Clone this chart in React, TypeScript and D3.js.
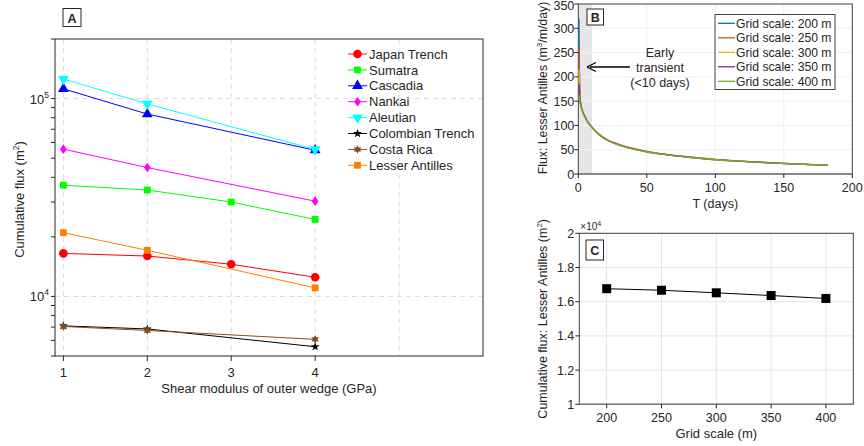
import React from "react";
import * as d3 from "d3";

// ---------- Panel A data ----------
const shearModulus = [1, 2, 3, 4];
const seriesNames = [
  "Japan Trench",
  "Sumatra",
  "Cascadia",
  "Nankai",
  "Aleutian",
  "Colombian Trench",
  "Costa Rica",
  "Lesser Antilles",
];
const japanTrench = [16500, 16000, 14550, 12500];
const sumatra = [36500, 34500, 30000, 24500];
const cascadia = [112000, 83500, null, 54800];
const nankai = [55500, 44800, null, 30300];
const aleutian = [125500, 94000, null, 55300];
const colombianTrench = [7100, 6850, null, 5570];
const costaRica = [7050, 6730, null, 6070];
const lesserAntilles = [21000, 17100, null, 11050];
const yTicksA = [10000, 100000];
const xTicksA = [1, 2, 3, 4];

// ---------- Panel B data ----------
const timeDays = [0.5, 0.7, 1.0, 1.6, 3, 5, 7, 10, 15, 20, 30, 40, 50, 60, 70, 80, 100, 120, 140, 160, 182];
const flux200 = [320, 240, 185, 148, 131, 118, 107, 96, 82, 72, 60, 52, 46, 41.5, 38, 35, 29.5, 26, 23, 20.5, 18];
const flux250 = [258, 222, 180, 147, 131, 118, 107.5, 96.5, 82.5, 72.5, 60.5, 52.5, 46.5, 42, 38.5, 35.5, 30, 26.5, 23.3, 20.7, 18.2];
const flux300 = [215, 196, 172, 146, 130, 117.5, 107, 96, 82, 72, 60, 52, 46, 41.5, 38, 35, 29.7, 26.2, 23.2, 20.6, 18.1];
const flux350 = [185, 174, 160, 145, 129.5, 117, 106.5, 95.5, 81.5, 71.5, 59.5, 51.7, 45.7, 41.3, 37.8, 34.8, 29.5, 26, 23, 20.5, 18];
const flux400 = [162, 156, 150, 143, 128.5, 116, 105.5, 95, 81, 71, 59, 51.3, 45.3, 41, 37.5, 34.5, 29.3, 25.8, 22.8, 20.3, 17.8];
const gridLabels = ["Grid scale: 200 m", "Grid scale: 250 m", "Grid scale: 300 m", "Grid scale: 350 m", "Grid scale: 400 m"];
const xTicksB = [0, 50, 100, 150, 200];
const yTicksB = [0, 50, 100, 150, 200, 250, 300, 350];

// ---------- Panel C data ----------
const gridScale = [200, 250, 300, 350, 400];
const cumFluxLA = [16760, 16670, 16520, 16360, 16190];
const xTicksC = [200, 250, 300, 350, 400];
const yTicksC = [1, 1.2, 1.4, 1.6, 1.8, 2];

const FONT = "'Liberation Sans', Arial, Helvetica, sans-serif";
const TXT = "#262626";

const colorsA = ["#FF0000", "#00FF00", "#0000FF", "#FF00FF", "#00FFFF", "#000000", "#80501F", "#FF8000"];
const colorsB = ["#0072BD", "#D95319", "#EDB120", "#7E2F8E", "#77AC30"];

function starPath(points: number, rOuter: number, rInner: number) {
  const pts: string[] = [];
  for (let i = 0; i < points * 2; i++) {
    const r = i % 2 === 0 ? rOuter : rInner;
    const a = (Math.PI * i) / points - Math.PI / 2;
    pts.push(`${(r * Math.cos(a)).toFixed(2)},${(r * Math.sin(a)).toFixed(2)}`);
  }
  return "M" + pts.join("L") + "Z";
}

function markerA(i: number, color: string) {
  const sym = d3.symbol();
  switch (i) {
    case 0:
      return <circle r={4.3} fill={color} />;
    case 1:
      return <rect x={-3.4} y={-3.4} width={6.8} height={6.8} fill={color} />;
    case 2:
      return <path d={sym.type(d3.symbolTriangle).size(50)() || ""} fill={color} />;
    case 3:
      return <path d={"M0,-4.8L3.4,0L0,4.8L-3.4,0Z"} fill={color} />;
    case 4:
      return <path d={sym.type(d3.symbolTriangle).size(50)() || ""} fill={color} transform="rotate(180)" />;
    case 5:
      return <path d={starPath(5, 4.6, 1.9)} fill={color} />;
    case 6:
      return <path d={starPath(6, 4.4, 2.3)} fill={color} />;
    default:
      return <rect x={-3.4} y={-3.4} width={6.8} height={6.8} fill={color} />;
  }
}

function PanelA() {
  const L = 55, R = 483, T = 39, B = 356;
  const x = d3.scaleLinear().domain([0.9, 6]).range([L, R]);
  const y = d3.scaleLog().domain([5000, 200000]).range([B, T]);
  const data = [japanTrench, sumatra, cascadia, nankai, aleutian, colombianTrench, costaRica, lesserAntilles];
  const minorTicks: number[] = [];
  for (let d = 1000; d <= 100000; d *= 10) {
    for (let k = 1; k <= 9; k++) {
      const v = d * k;
      if (v >= 5000 && v <= 200000) minorTicks.push(v);
    }
  }
  const line = d3
    .line<[number, number]>()
    .x((p) => x(p[0]))
    .y((p) => y(p[1]));
  return (
    <g>
      {[1, 2, 3, 4, 5].map((v) => (
        <line key={"gx" + v} x1={x(v)} x2={x(v)} y1={T} y2={B} stroke="#dcdcdc" strokeDasharray="5,4" strokeWidth={1} />
      ))}
      {yTicksA.map((v) => (
        <line key={"gy" + v} x1={L} x2={R} y1={y(v)} y2={y(v)} stroke="#dcdcdc" strokeDasharray="5,4" strokeWidth={1} />
      ))}
      {data.map((s, i) => {
        const pts = shearModulus
          .map((xv, j) => [xv, s[j]] as [number, number | null])
          .filter((p) => p[1] != null) as [number, number][];
        return (
          <g key={"s" + i}>
            <path d={line(pts) || ""} fill="none" stroke={colorsA[i]} strokeWidth={1} />
            {pts.map((p, j) => (
              <g key={j} transform={`translate(${x(p[0])},${y(p[1])})`}>
                {markerA(i, colorsA[i])}
              </g>
            ))}
          </g>
        );
      })}
      <rect x={L} y={T} width={R - L} height={B - T} fill="none" stroke={TXT} strokeWidth={1} />
      {minorTicks.map((v) => (
        <line key={"mt" + v} x1={L - 4} x2={L} y1={y(v)} y2={y(v)} stroke={TXT} strokeWidth={1} />
      ))}
      {yTicksA.map((v) => (
        <text key={"yl" + v} x={L - 6} y={y(v) + 5} textAnchor="end" fontSize={13} fill={TXT} fontFamily={FONT}>
          10
          <tspan dy={-6} fontSize={8.5}>
            {Math.round(Math.log10(v))}
          </tspan>
        </text>
      ))}
      {xTicksA.map((v) => (
        <g key={"xt" + v}>
          <line x1={x(v)} x2={x(v)} y1={B} y2={B + 5} stroke={TXT} strokeWidth={1} />
          <text x={x(v)} y={B + 21} textAnchor="middle" fontSize={13} fill={TXT} fontFamily={FONT}>
            {v}
          </text>
        </g>
      ))}
      <text x={(L + R) / 2} y={B + 37} textAnchor="middle" fontSize={13} fill={TXT} fontFamily={FONT}>
        Shear modulus of outer wedge (GPa)
      </text>
      <text transform={`translate(24,${(T + B) / 2 + 2}) rotate(-90)`} textAnchor="middle" fontSize={13} fill={TXT} fontFamily={FONT}>
        Cumulative flux (m
        <tspan dy={-5} fontSize={8.5}>2</tspan>
        <tspan dy={5}>)</tspan>
      </text>
      {seriesNames.map((n, i) => {
        const ly = 54 + i * 15.9;
        return (
          <g key={"lg" + i}>
            <line x1={348} x2={367} y1={ly} y2={ly} stroke={colorsA[i]} strokeWidth={1} />
            <g transform={`translate(357.5,${ly})`}>{markerA(i, colorsA[i])}</g>
            <text x={369} y={ly + 4.6} fontSize={13} fill={TXT} fontFamily={FONT}>
              {n}
            </text>
          </g>
        );
      })}
      <rect x={63} y={8.5} width={18} height={18} fill="white" stroke={TXT} strokeWidth={1} />
      <text x={72} y={22.5} textAnchor="middle" fontSize={12.5} fontWeight="bold" fill={TXT} fontFamily={FONT}>
        A
      </text>
    </g>
  );
}

function PanelB() {
  const L = 578.3, R = 852.3, T = 4, B = 174;
  const x = d3.scaleLinear().domain([0, 200]).range([L, R]);
  const y = d3.scaleLinear().domain([0, 350]).range([B, T]);
  const series = [flux200, flux250, flux300, flux350, flux400];
  const line = d3
    .line<number>()
    .x((_, i) => x(timeDays[i]))
    .y((v) => y(v))
    .curve(d3.curveMonotoneX);
  return (
    <g>
      {xTicksB.slice(1, -1).map((v) => (
        <line key={"g" + v} x1={x(v)} x2={x(v)} y1={T} y2={B} stroke="#eeeeee" strokeWidth={1} />
      ))}
      {yTicksB.slice(1, -1).map((v) => (
        <line key={"gy" + v} x1={L} x2={R} y1={y(v)} y2={y(v)} stroke="#f0f0f0" strokeWidth={1} />
      ))}
      <rect x={x(0)} y={T} width={x(10) - x(0)} height={B - T} fill="#e6e6e6" />
      {yTicksB.slice(1, -1).map((v) => (
        <line key={"gy2" + v} x1={x(0)} x2={x(10)} y1={y(v)} y2={y(v)} stroke="#f2f2f2" strokeWidth={1} />
      ))}
      <rect x={L} y={T} width={R - L} height={B - T} fill="none" stroke="#404040" strokeWidth={1} />
      <line x1={L} x2={R} y1={B} y2={B} stroke="#808080" strokeWidth={1.5} />
      {series.map((s, i) => (
        <path key={i} d={line(s) || ""} fill="none" stroke={colorsB[i]} strokeWidth={1.3} />
      ))}
      {xTicksB.map((v) => (
        <g key={"xt" + v}>
          <line x1={x(v)} x2={x(v)} y1={B} y2={B + 4} stroke={TXT} strokeWidth={1} />
          <text x={x(v)} y={B + 18} textAnchor="middle" fontSize={12.5} fill={TXT} fontFamily={FONT}>
            {v}
          </text>
        </g>
      ))}
      {yTicksB.map((v) => (
        <g key={"yt" + v}>
          <line x1={L - 4} x2={L} y1={y(v)} y2={y(v)} stroke={TXT} strokeWidth={1} />
          <text x={L - 4} y={Math.max(y(v) + 4.5, 10)} textAnchor="end" fontSize={12.5} fill={TXT} fontFamily={FONT}>
            {v}
          </text>
        </g>
      ))}
      <text x={(L + R) / 2} y={B + 34} textAnchor="middle" fontSize={12.5} fill={TXT} fontFamily={FONT}>
        T (days)
      </text>
      <text transform={`translate(547,${(T + B) / 2 - 1}) rotate(-90)`} textAnchor="middle" fontSize={12.3} fill={TXT} fontFamily={FONT}>
        Flux: Lesser Antilles (m
        <tspan dy={-5} fontSize={8}>3</tspan>
        <tspan dy={5}>/m/day)</tspan>
      </text>
      <line x1={630} x2={590} y1={67} y2={67} stroke="#000" strokeWidth={1.3} />
      <path d="M587,67 L596,62.5 M587,67 L596,71.5" stroke="#000" strokeWidth={1.3} fill="none" />
      {["Early", "transient", "(<10 days)"].map((t, i) => (
        <text key={t} x={660} y={57 + i * 15} textAnchor="middle" fontSize={12.5} fill={TXT} fontFamily={FONT}>
          {t}
        </text>
      ))}
      <rect x={715} y={14.5} width={120} height={75} fill="white" stroke="#404040" strokeWidth={1} />
      {gridLabels.map((n, i) => {
        const ly = 23.3 + i * 14.5;
        return (
          <g key={"lg" + i}>
            <line x1={718} x2={735} y1={ly} y2={ly} stroke={colorsB[i]} strokeWidth={1.3} />
            <text x={736} y={ly + 4.3} fontSize={12.2} fill={TXT} fontFamily={FONT}>
              {n}
            </text>
          </g>
        );
      })}
      <rect x={587} y={9} width={16.5} height={16} fill="white" stroke={TXT} strokeWidth={1} />
      <text x={595.3} y={21.8} textAnchor="middle" fontSize={12.5} fontWeight="bold" fill={TXT} fontFamily={FONT}>
        B
      </text>
    </g>
  );
}

function PanelC() {
  const L = 579.3, R = 853.3, T = 233.3, B = 404.3;
  const x = d3.scaleLinear().domain([175, 425]).range([L, R]);
  const y = d3.scaleLinear().domain([1, 2]).range([B, T]);
  const line = d3
    .line<number>()
    .x((_, i) => x(gridScale[i]))
    .y((v) => y(v / 10000));
  return (
    <g>
      {xTicksC.map((v) => (
        <line key={"gx" + v} x1={x(v)} x2={x(v)} y1={T} y2={B} stroke="#e4e4e4" strokeWidth={1} />
      ))}
      {yTicksC.map((v) => (
        <line key={"gy" + v} x1={L} x2={R} y1={y(v)} y2={y(v)} stroke="#e4e4e4" strokeWidth={1} />
      ))}
      <path d={line(cumFluxLA) || ""} fill="none" stroke="#000" strokeWidth={1} />
      {cumFluxLA.map((v, i) => (
        <rect key={i} x={x(gridScale[i]) - 4.5} y={y(v / 10000) - 4.5} width={9} height={9} fill="#000" />
      ))}
      <rect x={L} y={T} width={R - L} height={B - T} fill="none" stroke="#404040" strokeWidth={1} />
      <line x1={L} x2={R} y1={B} y2={B} stroke="#808080" strokeWidth={1.5} />
      {xTicksC.map((v) => (
        <g key={"xt" + v}>
          <line x1={x(v)} x2={x(v)} y1={B} y2={B + 4} stroke={TXT} strokeWidth={1} />
          <text x={x(v)} y={B + 18} textAnchor="middle" fontSize={12.5} fill={TXT} fontFamily={FONT}>
            {v}
          </text>
        </g>
      ))}
      {yTicksC.map((v) => (
        <g key={"yt" + v}>
          <line x1={L - 4} x2={L} y1={y(v)} y2={y(v)} stroke={TXT} strokeWidth={1} />
          <text x={L - 5} y={y(v) + 4.5} textAnchor="end" fontSize={12.5} fill={TXT} fontFamily={FONT}>
            {v}
          </text>
        </g>
      ))}
      <text x={L + 1} y={T - 3} fontSize={10} fill={TXT} fontFamily={FONT}>
        ×10
        <tspan dy={-4} fontSize={7}>4</tspan>
      </text>
      <text x={(L + R) / 2} y={B + 34} textAnchor="middle" fontSize={13} fill={TXT} fontFamily={FONT}>
        Grid scale (m)
      </text>
      <text transform={`translate(547,${(T + B) / 2}) rotate(-90)`} textAnchor="middle" fontSize={12.5} fill={TXT} fontFamily={FONT}>
        Cumulative flux: Lesser Antilles (m
        <tspan dy={-5} fontSize={8}>2</tspan>
        <tspan dy={5}>)</tspan>
      </text>
      <rect x={586} y={240} width={17.5} height={20} fill="white" stroke={TXT} strokeWidth={1} />
      <text x={594.8} y={254.5} textAnchor="middle" fontSize={12.5} fontWeight="bold" fill={TXT} fontFamily={FONT}>
        C
      </text>
    </g>
  );
}

export default function App() {
  return (
    <svg
      width={864}
      height={446}
      viewBox="0 0 864 446"
      style={{ position: "fixed", left: 0, top: 0, background: "white" }}
    >
      <rect x={0} y={0} width={864} height={446} fill="white" />
      <PanelA />
      <PanelB />
      <PanelC />
    </svg>
  );
}
